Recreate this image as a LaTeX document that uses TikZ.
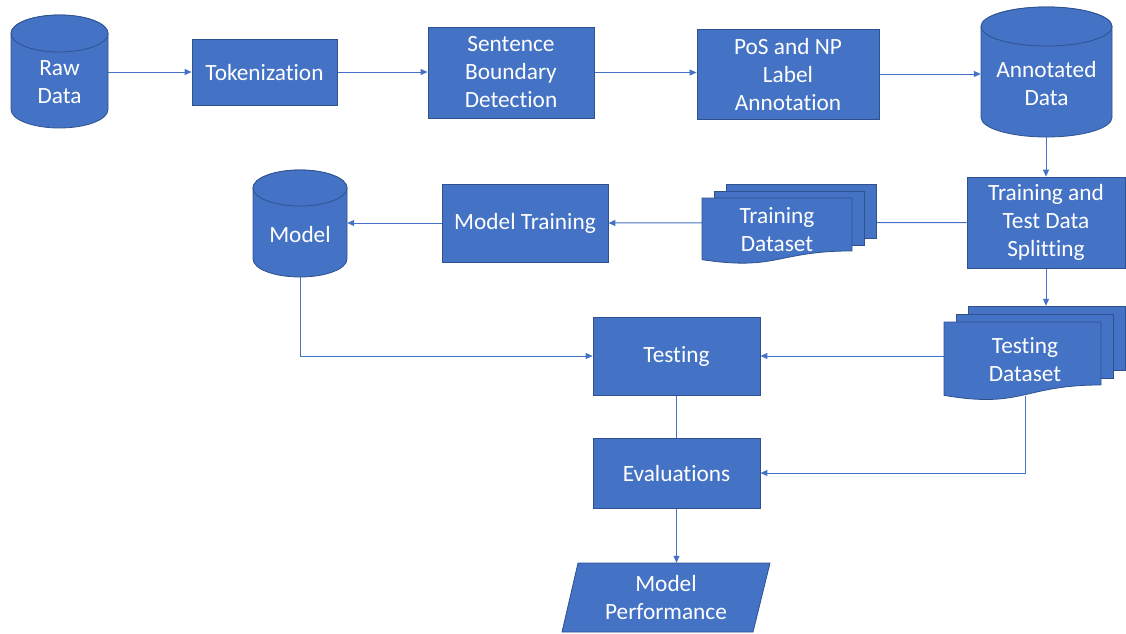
\documentclass[tikz,border=0pt]{standalone}
\usepackage{fontspec}
\setmainfont{Carlito}[Ligatures={NoCommon}]
\usetikzlibrary{arrows.meta,backgrounds}
\definecolor{fillb}{HTML}{4472C4}
\definecolor{edgeb}{HTML}{2F528F}
\definecolor{lineb}{HTML}{4472C4}
\newcommand\mycyl[5]{% x1 x2 top bot ry
  \pgfmathsetmacro\cx{(#1+#2)/2}\pgfmathsetmacro\rx{(#2-#1)/2}
  \path[shp] ({#1},{#3+#5}) -- ({#1},{#4-#5})
     arc[start angle=180,end angle=360,x radius=\rx pt,y radius=#5 pt]
     -- ({#2},{#3+#5})
     arc[start angle=0,end angle=180,x radius=\rx pt,y radius=#5 pt] -- cycle;
  \path[shp] (\cx,{#3+#5}) ellipse[x radius=\rx pt,y radius=#5 pt];
}
\newcommand\myrect[4]{\path[shp] (#1,#3) rectangle (#2,#4);}
\newcommand\mydocfront[4]{% x1 x2 top h
  \pgfmathsetmacro\mx{(#1+#2)/2}
  \path[shp] (#1,#3) -- (#2,#3) -- ({#2},{#3+0.802*#4})
     .. controls (\mx,{#3+0.802*#4}) and (\mx,{#3+1.107*#4}) .. ({#1},{#3+0.934*#4}) -- cycle;
}
\begin{document}
\begin{tikzpicture}[x=1pt,y=-1pt,
  shp/.style={fill=fillb,draw=edgeb,line width=0.8pt},
  txt/.style={text=white,align=center,inner sep=0pt,font=\fontsize{23.3}{28}\selectfont},
  box/.style={shp,txt,rectangle},
  ghost/.style={draw=none,fill=none,rectangle,inner sep=0pt},
  conn/.style={draw=lineb,line width=1pt},
  arr/.style={conn,-{Triangle[length=7pt,width=6pt]}},
]
\useasboundingbox (0,0) rectangle (1126,633);

% cylinders
\mycyl{11}{108}{15}{128}{18.5}
\node[ghost,minimum width=97pt,minimum height=113pt] (raw) at (59.5,71.5) {};
\node[txt] (rawt) at (59.5,82) {Raw\\Data};

\mycyl{981}{1112}{7}{137}{19.5}
\node[ghost,minimum width=131pt,minimum height=130pt] (anno) at (1046.5,72) {};
\node[txt] (annot) at (1046.5,83) {Annotated\\Data};

\mycyl{253}{347}{170}{277}{18}
\node[ghost,minimum width=94pt,minimum height=107pt] (model) at (300,223.5) {};
\node[txt] (modelt) at (300,234) {Model};

% boxes
\node[box,minimum width=145pt,minimum height=66pt] (tok) at (264.5,72) {Tokenization};
\node[box,minimum width=166pt,minimum height=91pt] (sbd) at (511,72.5) {Sentence\\Boundary\\Detection};
\node[box,minimum width=182pt,minimum height=90pt] (pos) at (788,74) {PoS and NP\\Label\\Annotation};
\node[box,minimum width=158pt,minimum height=91pt] (split) at (1046,222.5) {Training and\\Test Data\\Splitting};
\node[box,minimum width=166pt,minimum height=78pt] (mtrain) at (525,223) {Model Training};
\node[box,minimum width=167pt,minimum height=78pt] (testing) at (676.5,356) {Testing};
\node[box,minimum width=167pt,minimum height=70pt] (eval) at (676.5,473) {Evaluations};

% training dataset (multi-document)
\myrect{726}{876}{184}{238}
\myrect{714}{864}{191}{245}
\mydocfront{702}{852}{198}{66}
\node[ghost,minimum width=150pt,minimum height=62pt] (trainds) at (777,229) {};
\node[txt] (traindst) at (777,230) {Training\\Dataset};

% testing dataset (multi-document)
\myrect{968}{1125}{306}{370}
\node[ghost,minimum width=157pt,minimum height=64pt] (testdsback) at (1046.5,338) {};
\myrect{956}{1113}{314}{378}
\mydocfront{944}{1101}{322}{78.5}
\node[ghost,minimum width=152pt,minimum height=74pt] (testds) at (1025,359) {};
\node[txt] (testdst) at (1025,360) {Testing\\Dataset};

% model performance (parallelogram)
\path[shp] (578,563) -- (770,563) -- (753,632) -- (562,632) -- cycle;
\node[ghost,minimum width=190pt,minimum height=69pt] (perf) at (666,597.5) {};
\node[txt] (perft) at (666,597) {Model\\Performance};

% connectors
\begin{pgfonlayer}{background}
\draw[arr] (raw.east |- tok.west) -- (tok.west);
\draw[arr] (tok.east) -- (tok.east -| sbd.west);
\draw[arr] (sbd.east) -- (sbd.east -| pos.west);
\draw[arr] (pos.east) -- (pos.east -| anno.west);
\draw[arr] (anno.south -| split.north) -- (split.north);
\draw[arr] (split.west) -- (mtrain.east);
\draw[arr] (mtrain.west) -- (mtrain.west -| model.east);
\draw[arr] (split.south) -- (split.south |- testdsback.north);
\draw[arr] (testds.west |- testing.east) -- (testing.east);
\draw[arr] (model.south) |- (testing.west);
\draw[conn] (testing.south) -- (eval.north);
\draw[arr] (testds.south) |- (eval.east);
\draw[arr] (eval.south) -- (eval.south |- perf.north);
\end{pgfonlayer}
\end{tikzpicture}
\end{document}
